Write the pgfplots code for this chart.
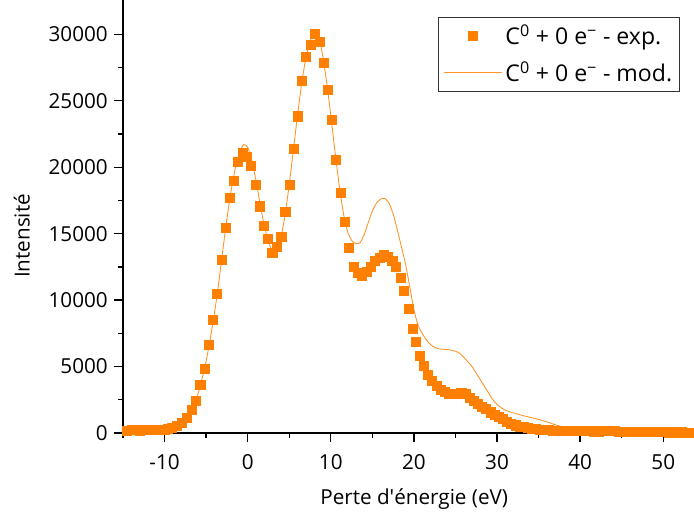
\documentclass[border=0pt]{standalone}
\usepackage{pgfplots}
\pgfplotsset{compat=1.18}
\usepackage{fontspec}
\setmainfont{Open Sans}
\definecolor{org}{RGB}{255,128,0}
\begin{document}
\fontsize{15.5}{18}\selectfont
\begin{tikzpicture}
\begin{axis}[
  scale only axis,
  width=428.25pt, height=324.75pt,
  xmin=-15, xmax=53.7, ymin=0, ymax=32580,
  axis x line=bottom, axis y line=left,
  axis line style={-, line width=1.1pt, black},
  tick align=outside,
  tick style={line width=1pt, black},
  major tick length=6.75pt, minor tick length=3.75pt,
  xtick={-10,0,10,20,30,40,50},
  minor xtick={-15,-5,5,15,25,35,45},
  ytick={0,5000,10000,15000,20000,25000,30000},
  minor ytick={2500,7500,12500,17500,22500,27500},
  scaled y ticks=false,
  /pgf/number format/assume math mode=true,
  /pgf/number format/set thousands separator={},
  xticklabel style={anchor=center, yshift=-15pt, font=\fontsize{15.5}{18}\selectfont},
  yticklabel style={anchor=east, inner sep=0pt, xshift=-4.5pt, font=\fontsize{15.5}{18}\selectfont},
  xlabel={Perte d\textquotesingle énergie (eV)},
  ylabel={Intensité},
  xlabel style={at={(axis description cs:0.51,-0.152)}, anchor=center, font=\fontsize{15.5}{18}\selectfont},
  ylabel style={at={(axis description cs:-0.177,0.455)}, anchor=center, rotate=0, font=\fontsize{15.5}{18}\selectfont},
  legend style={at={(1,1)}, anchor=north east, xshift=-10.5pt, yshift=-12.75pt,
    draw=black!80, line width=0.75pt, font=\fontsize{17.3}{20}\selectfont,
    inner xsep=3.5pt, inner ysep=3.5pt, row sep=6pt,
    /tikz/every even column/.append style={column sep=2pt}},
  legend cell align=left,
  clip=true,
]
\coordinate (bl) at (rel axis cs:0,0);
\coordinate (tr) at (rel axis cs:1,1);
\addplot[only marks, mark=square*, mark size=3.4pt, color=org, mark options={fill=org, draw=org},
  legend image code/.code={\draw[mark repeat=2, mark phase=2] plot coordinates {(0pt,0pt) (22pt,0pt) (44pt,0pt)};}]
coordinates {
(-14.5,200) (-14.0,215) (-13.5,210) (-13.0,200) (-12.5,210) (-12.0,220) (-11.5,230) (-11.0,220) (-10.5,210)
(-10.0,230) (-9.6,290) (-9.1,380) (-8.5,540) (-7.9,790) (-7.3,1160) (-6.76,1740) (-6.24,2420)
(-5.7,3600) (-5.2,4840) (-4.68,6610) (-4.17,8490) (-3.68,10460) (-3.16,13050) (-2.66,15420)
(-2.12,17710) (-1.68,19000) (-1.16,20380) (-0.6,21100) (-0.08,20800) (0.4,20100) (0.92,18700)
(1.48,17060) (1.96,15570) (2.44,14590) (2.96,13560) (3.48,14020) (4.04,14770) (4.52,16630)
(5.04,18660) (5.52,21360) (6.04,23830) (6.52,26510) (7.04,28300) (7.56,29230) (8.08,30060)
(8.64,29430) (9.16,27870) (9.64,25810) (10.12,23600) (10.64,20550) (11.16,18090) (11.68,15920)
(12.2,13960) (12.72,12530) (13.24,12050) (13.77,11850) (14.28,12100) (14.8,12530) (15.33,12980)
(15.85,13180) (16.36,13430) (16.9,13280) (17.4,12980) (17.85,12480) (18.37,11680) (18.8,10670)
(19.4,9340) (19.84,7830) (20.25,6890) (20.65,5810) (21.2,5060) (21.7,4400) (22.2,3900) (22.7,3550)
(23.2,3250) (23.7,3080) (24.2,2960) (24.7,2920) (25.2,2970) (25.7,3040) (26.2,2950) (26.7,2650)
(27.2,2400) (27.7,2200) (28.2,2000) (28.7,1790) (29.2,1560) (29.7,1400) (30.2,1230) (30.7,1040)
(31.2,860) (31.7,700) (32.2,580) (32.7,500) (33.2,440) (33.7,400) (34.2,350) (34.7,300) (35.2,270)
(35.7,240) (36.2,220) (36.7,200) (37.2,190) (37.7,180) (38.2,170) (38.7,160) (39.2,155) (39.7,150)
(40.2,145) (40.7,140) (41.2,135) (41.7,130) (42.2,130) (42.7,140) (43.2,150) (43.7,150) (44.2,140)
(44.7,120) (45.2,90) (45.7,80) (46.2,75) (46.7,70) (47.2,70) (47.7,65) (48.2,65) (48.7,60) (49.2,60)
(49.7,60) (50.2,60) (50.7,55) (51.2,55) (51.7,55) (52.2,55) (52.7,50) (53.2,50) (53.7,50)
};
\addlegendentry{C\textsuperscript{0} + 0 e\textsuperscript{−} - exp.}
\addplot[color=org!85!white, line width=0.65pt, smooth, tension=0.4,
  legend image code/.code={\draw (0pt,0pt) -- (44pt,0pt);}]
coordinates {
(-15,50) (-13,60) (-11,100) (-10,180) (-9.5,270) (-9,400) (-8.5,560) (-8,800) (-7.5,1120) (-7,1550)
(-6.5,2100) (-6,2900) (-5.5,4050) (-5,5400) (-4.5,7100) (-4,9000) (-3.5,11200) (-3,13700) (-2.5,16100)
(-2,18200) (-1.5,19900) (-1,21100) (-0.5,21700) (0,21500) (0.5,20500) (1,19000) (1.5,17200) (2,15600)
(2.5,14400) (3,13700) (3.5,13800) (4,14700) (4.5,16400) (5,18700) (5.5,21300) (6,23900) (6.5,26300)
(7,28200) (7.5,29500) (8,30100) (8.5,29800) (9,28500) (9.5,26400) (10,23900) (10.5,21200) (11,18700)
(11.5,16600) (12,15200) (12.5,14500) (13,14250) (13.5,14300) (14,14900) (14.5,15800) (15,16700)
(15.5,17300) (16,17600) (16.5,17650) (17,17300) (17.5,16500) (18,15300) (18.5,14000) (19,12700)
(19.5,11000) (20,9300) (20.5,8100) (21,7500) (21.5,7000) (22,6650) (22.5,6450) (23,6330) (23.5,6300)
(24,6280) (24.5,6230) (25,6150) (25.5,6000) (26,5700) (26.5,5350) (27,5000) (27.5,4500) (28,4000)
(28.5,3500) (29,3000) (29.5,2500) (30,2150) (30.5,1900) (31,1720) (31.5,1600) (32,1500) (32.5,1420)
(33,1330) (33.5,1250) (34,1180) (34.5,1100) (35,1020) (35.5,930) (36,830) (36.5,730) (37,620)
(37.5,530) (38,460) (38.5,400) (39,350) (40,300) (41,270) (42,250) (43,220) (44,180) (45,150)
(46,130) (48,110) (50,100) (53.7,90)
};
\addlegendentry{C\textsuperscript{0} + 0 e\textsuperscript{−} - mod.}
\end{axis}
\pgfresetboundingbox
\path[use as bounding box] (bl) ++(-92.25pt,-65.25pt) rectangle (tr);
\end{tikzpicture}
\end{document}
